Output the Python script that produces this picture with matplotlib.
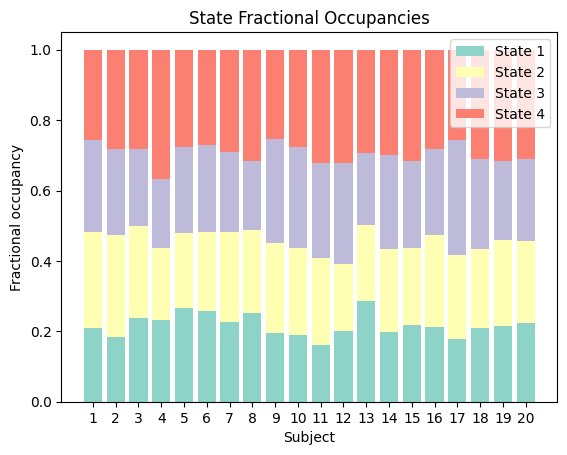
import numpy as np
import matplotlib
matplotlib.use("Agg")
import matplotlib.pyplot as plt

# fractional occupancy per subject, one list per state
subjects = list(range(1, 21))
state1 = [0.209, 0.184, 0.238, 0.232, 0.266, 0.258, 0.227, 0.252, 0.195, 0.190,
          0.161, 0.201, 0.286, 0.198, 0.218, 0.212, 0.178, 0.209, 0.215, 0.224]
state2 = [0.273, 0.290, 0.262, 0.205, 0.214, 0.224, 0.255, 0.236, 0.256, 0.247,
          0.248, 0.190, 0.216, 0.236, 0.219, 0.262, 0.239, 0.225, 0.245, 0.233]
state3 = [0.262, 0.244, 0.218, 0.196, 0.244, 0.248, 0.228, 0.196, 0.296, 0.287,
          0.270, 0.288, 0.205, 0.267, 0.247, 0.244, 0.327, 0.256, 0.224, 0.233]
state4 = [0.256, 0.282, 0.282, 0.367, 0.276, 0.270, 0.290, 0.316, 0.253, 0.276,
          0.321, 0.321, 0.293, 0.299, 0.316, 0.282, 0.256, 0.310, 0.316, 0.310]
state_names = ["State 1", "State 2", "State 3", "State 4"]

colors = plt.cm.Set3.colors[:4]

fig, ax = plt.subplots(figsize=(6.4, 4.8))
bottom = np.zeros(len(subjects))
for vals, name, c in zip([state1, state2, state3, state4], state_names, colors):
    ax.bar(subjects, vals, bottom=bottom, color=c, label=name)
    bottom += np.array(vals)

ax.set_xticks(subjects)
ax.set_xlabel("Subject")
ax.set_ylabel("Fractional occupancy")
ax.set_title("State Fractional Occupancies")
ax.legend(loc="upper right")

fig.savefig("out.png", bbox_inches="tight")
